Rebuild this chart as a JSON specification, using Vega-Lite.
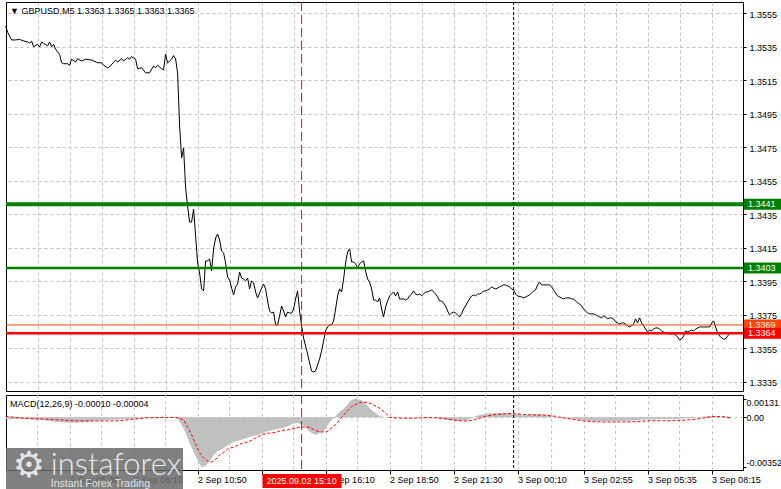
{
"$schema": "https://vega.github.io/schema/vega-lite/v6.json",
"background": "#ffffff",
"padding": {"left": 3, "top": 1, "right": 0, "bottom": 0},
"spacing": 2,
"config": {
  "view": {"stroke": "#000000", "strokeWidth": 1},
  "axis": {"labelFont": "Tahoma, 'Liberation Sans', Arial, sans-serif", "labelFontSize": 9, "labelColor": "#000000", "tickColor": "#000000", "tickSize": 4, "tickWidth": 1, "domain": false, "gridColor": "#c0c0c0", "gridDash": [3, 3], "gridWidth": 1, "labelOverlap": false, "labelFlush": false, "labelBound": false},
  "text": {"font": "Tahoma, 'Liberation Sans', Arial, sans-serif", "fontSize": 9, "color": "#000000"}
},
"datasets": {
  "price": [
{"t":"2025-09-02T02:50Z","p":1.35474},{"t":"2025-09-02T02:55Z","p":1.35438},{"t":"2025-09-02T03:05Z","p":1.35391},{"t":"2025-09-02T03:15Z","p":1.35391},{"t":"2025-09-02T03:25Z","p":1.35394},{"t":"2025-09-02T03:35Z","p":1.35385},{"t":"2025-09-02T03:45Z","p":1.35379},{"t":"2025-09-02T03:50Z","p":1.35371},{"t":"2025-09-02T03:55Z","p":1.35385},{"t":"2025-09-02T04:00Z","p":1.35351},{"t":"2025-09-02T04:10Z","p":1.35365},{"t":"2025-09-02T04:15Z","p":1.35349},{"t":"2025-09-02T04:20Z","p":1.35379},{"t":"2025-09-02T04:25Z","p":1.3537},{"t":"2025-09-02T04:35Z","p":1.35355},{"t":"2025-09-02T04:40Z","p":1.35379},{"t":"2025-09-02T04:45Z","p":1.35351},{"t":"2025-09-02T04:50Z","p":1.35365},{"t":"2025-09-02T04:55Z","p":1.35335},{"t":"2025-09-02T05:05Z","p":1.35305},{"t":"2025-09-02T05:10Z","p":1.35255},{"t":"2025-09-02T05:15Z","p":1.35249},{"t":"2025-09-02T05:25Z","p":1.35249},{"t":"2025-09-02T05:30Z","p":1.3524},{"t":"2025-09-02T05:35Z","p":1.35276},{"t":"2025-09-02T05:45Z","p":1.35259},{"t":"2025-09-02T05:50Z","p":1.35279},{"t":"2025-09-02T06:00Z","p":1.35265},{"t":"2025-09-02T06:10Z","p":1.35276},{"t":"2025-09-02T06:25Z","p":1.35271},{"t":"2025-09-02T06:40Z","p":1.35255},{"t":"2025-09-02T06:50Z","p":1.35255},{"t":"2025-09-02T06:55Z","p":1.3524},{"t":"2025-09-02T07:05Z","p":1.35225},{"t":"2025-09-02T07:10Z","p":1.35231},{"t":"2025-09-02T07:25Z","p":1.35271},{"t":"2025-09-02T07:30Z","p":1.35259},{"t":"2025-09-02T07:40Z","p":1.35279},{"t":"2025-09-02T07:45Z","p":1.35265},{"t":"2025-09-02T07:55Z","p":1.35285},{"t":"2025-09-02T08:00Z","p":1.35276},{"t":"2025-09-02T08:05Z","p":1.35291},{"t":"2025-09-02T08:15Z","p":1.35276},{"t":"2025-09-02T08:20Z","p":1.35219},{"t":"2025-09-02T08:30Z","p":1.35225},{"t":"2025-09-02T08:40Z","p":1.35195},{"t":"2025-09-02T08:50Z","p":1.35195},{"t":"2025-09-02T09:00Z","p":1.35235},{"t":"2025-09-02T09:05Z","p":1.35225},{"t":"2025-09-02T09:10Z","p":1.3524},{"t":"2025-09-02T09:20Z","p":1.35219},{"t":"2025-09-02T09:25Z","p":1.35212},{"t":"2025-09-02T09:30Z","p":1.35307},{"t":"2025-09-02T09:35Z","p":1.35253},{"t":"2025-09-02T09:45Z","p":1.35276},{"t":"2025-09-02T09:50Z","p":1.35298},{"t":"2025-09-02T09:55Z","p":1.35277},{"t":"2025-09-02T10:00Z","p":1.35194},{"t":"2025-09-02T10:05Z","p":1.34877},{"t":"2025-09-02T10:10Z","p":1.34686},{"t":"2025-09-02T10:15Z","p":1.34746},{"t":"2025-09-02T10:20Z","p":1.34507},{"t":"2025-09-02T10:25Z","p":1.344},{"t":"2025-09-02T10:30Z","p":1.34304},{"t":"2025-09-02T10:35Z","p":1.34304},{"t":"2025-09-02T10:40Z","p":1.34382},{"t":"2025-09-02T10:45Z","p":1.34221},{"t":"2025-09-02T10:50Z","p":1.3406},{"t":"2025-09-02T10:55Z","p":1.34},{"t":"2025-09-02T11:00Z","p":1.33905},{"t":"2025-09-02T11:05Z","p":1.33893},{"t":"2025-09-02T11:10Z","p":1.34072},{"t":"2025-09-02T11:15Z","p":1.34072},{"t":"2025-09-02T11:20Z","p":1.34084},{"t":"2025-09-02T11:25Z","p":1.34012},{"t":"2025-09-02T11:30Z","p":1.34144},{"t":"2025-09-02T11:35Z","p":1.34209},{"t":"2025-09-02T11:40Z","p":1.34233},{"t":"2025-09-02T11:45Z","p":1.34197},{"t":"2025-09-02T11:50Z","p":1.34131},{"t":"2025-09-02T11:55Z","p":1.3412},{"t":"2025-09-02T12:00Z","p":1.3406},{"t":"2025-09-02T12:05Z","p":1.33976},{"t":"2025-09-02T12:10Z","p":1.33958},{"t":"2025-09-02T12:15Z","p":1.3391},{"t":"2025-09-02T12:20Z","p":1.33869},{"t":"2025-09-02T12:25Z","p":1.33917},{"t":"2025-09-02T12:30Z","p":1.33934},{"t":"2025-09-02T12:35Z","p":1.34006},{"t":"2025-09-02T12:40Z","p":1.3397},{"t":"2025-09-02T12:45Z","p":1.33964},{"t":"2025-09-02T12:50Z","p":1.33953},{"t":"2025-09-02T12:55Z","p":1.3397},{"t":"2025-09-02T13:00Z","p":1.33905},{"t":"2025-09-02T13:05Z","p":1.33953},{"t":"2025-09-02T13:10Z","p":1.33941},{"t":"2025-09-02T13:15Z","p":1.33887},{"t":"2025-09-02T13:20Z","p":1.33851},{"t":"2025-09-02T13:25Z","p":1.33881},{"t":"2025-09-02T13:30Z","p":1.3391},{"t":"2025-09-02T13:35Z","p":1.33934},{"t":"2025-09-02T13:40Z","p":1.33905},{"t":"2025-09-02T13:45Z","p":1.33833},{"t":"2025-09-02T13:50Z","p":1.33773},{"t":"2025-09-02T13:55Z","p":1.33761},{"t":"2025-09-02T14:00Z","p":1.33767},{"t":"2025-09-02T14:05Z","p":1.3369},{"t":"2025-09-02T14:10Z","p":1.3369},{"t":"2025-09-02T14:15Z","p":1.33744},{"t":"2025-09-02T14:20Z","p":1.33803},{"t":"2025-09-02T14:25Z","p":1.33773},{"t":"2025-09-02T14:30Z","p":1.33738},{"t":"2025-09-02T14:35Z","p":1.33767},{"t":"2025-09-02T14:40Z","p":1.33761},{"t":"2025-09-02T14:45Z","p":1.33761},{"t":"2025-09-02T14:50Z","p":1.33785},{"t":"2025-09-02T14:55Z","p":1.33845},{"t":"2025-09-02T15:00Z","p":1.33893},{"t":"2025-09-02T15:05Z","p":1.33773},{"t":"2025-09-02T15:10Z","p":1.33684},{"t":"2025-09-02T15:15Z","p":1.33612},{"t":"2025-09-02T15:20Z","p":1.33564},{"t":"2025-09-02T15:25Z","p":1.33517},{"t":"2025-09-02T15:30Z","p":1.33463},{"t":"2025-09-02T15:35Z","p":1.33415},{"t":"2025-09-02T15:40Z","p":1.33409},{"t":"2025-09-02T15:45Z","p":1.33415},{"t":"2025-09-02T15:50Z","p":1.33451},{"t":"2025-09-02T15:55Z","p":1.33487},{"t":"2025-09-02T16:00Z","p":1.33535},{"t":"2025-09-02T16:05Z","p":1.33594},{"t":"2025-09-02T16:10Z","p":1.33654},{"t":"2025-09-02T16:15Z","p":1.33678},{"t":"2025-09-02T16:20Z","p":1.3369},{"t":"2025-09-02T16:25Z","p":1.3369},{"t":"2025-09-02T16:30Z","p":1.33714},{"t":"2025-09-02T16:35Z","p":1.33785},{"t":"2025-09-02T16:40Z","p":1.33863},{"t":"2025-09-02T16:45Z","p":1.33905},{"t":"2025-09-02T16:50Z","p":1.33887},{"t":"2025-09-02T16:55Z","p":1.33964},{"t":"2025-09-02T17:00Z","p":1.3406},{"t":"2025-09-02T17:05Z","p":1.34126},{"t":"2025-09-02T17:10Z","p":1.34144},{"t":"2025-09-02T17:15Z","p":1.34066},{"t":"2025-09-02T17:20Z","p":1.34066},{"t":"2025-09-02T17:25Z","p":1.34054},{"t":"2025-09-02T17:30Z","p":1.3403},{"t":"2025-09-02T17:35Z","p":1.34054},{"t":"2025-09-02T17:40Z","p":1.34066},{"t":"2025-09-02T17:45Z","p":1.34072},{"t":"2025-09-02T17:50Z","p":1.34012},{"t":"2025-09-02T17:55Z","p":1.33964},{"t":"2025-09-02T18:00Z","p":1.33946},{"t":"2025-09-02T18:05Z","p":1.33905},{"t":"2025-09-02T18:10Z","p":1.33839},{"t":"2025-09-02T18:15Z","p":1.33839},{"t":"2025-09-02T18:20Z","p":1.33827},{"t":"2025-09-02T18:25Z","p":1.33851},{"t":"2025-09-02T18:30Z","p":1.33785},{"t":"2025-09-02T18:35Z","p":1.33738},{"t":"2025-09-02T18:40Z","p":1.33797},{"t":"2025-09-02T18:45Z","p":1.33833},{"t":"2025-09-02T18:50Z","p":1.33863},{"t":"2025-09-02T18:55Z","p":1.33875},{"t":"2025-09-02T19:00Z","p":1.33887},{"t":"2025-09-02T19:05Z","p":1.33863},{"t":"2025-09-02T19:10Z","p":1.33887},{"t":"2025-09-02T19:15Z","p":1.33845},{"t":"2025-09-02T19:20Z","p":1.33845},{"t":"2025-09-02T19:25Z","p":1.33845},{"t":"2025-09-02T19:30Z","p":1.33839},{"t":"2025-09-02T19:35Z","p":1.33845},{"t":"2025-09-02T19:40Z","p":1.33863},{"t":"2025-09-02T19:45Z","p":1.33875},{"t":"2025-09-02T19:50Z","p":1.33893},{"t":"2025-09-02T19:55Z","p":1.33875},{"t":"2025-09-02T20:00Z","p":1.33869},{"t":"2025-09-02T20:05Z","p":1.33875},{"t":"2025-09-02T20:10Z","p":1.33863},{"t":"2025-09-02T20:15Z","p":1.33875},{"t":"2025-09-02T20:20Z","p":1.33887},{"t":"2025-09-02T20:25Z","p":1.33887},{"t":"2025-09-02T20:30Z","p":1.33893},{"t":"2025-09-02T20:35Z","p":1.33899},{"t":"2025-09-02T20:40Z","p":1.33887},{"t":"2025-09-02T20:45Z","p":1.33875},{"t":"2025-09-02T20:50Z","p":1.33857},{"t":"2025-09-02T20:55Z","p":1.33833},{"t":"2025-09-02T21:00Z","p":1.33833},{"t":"2025-09-02T21:05Z","p":1.33821},{"t":"2025-09-02T21:10Z","p":1.33803},{"t":"2025-09-02T21:15Z","p":1.33773},{"t":"2025-09-02T21:20Z","p":1.3375},{"t":"2025-09-02T21:25Z","p":1.33761},{"t":"2025-09-02T21:30Z","p":1.33767},{"t":"2025-09-02T21:35Z","p":1.33761},{"t":"2025-09-02T21:40Z","p":1.3375},{"t":"2025-09-02T21:45Z","p":1.33738},{"t":"2025-09-02T21:50Z","p":1.33756},{"t":"2025-09-02T21:55Z","p":1.33785},{"t":"2025-09-02T22:00Z","p":1.33803},{"t":"2025-09-02T22:05Z","p":1.33827},{"t":"2025-09-02T22:10Z","p":1.33845},{"t":"2025-09-02T22:15Z","p":1.33863},{"t":"2025-09-02T22:20Z","p":1.33869},{"t":"2025-09-02T22:25Z","p":1.33863},{"t":"2025-09-02T22:30Z","p":1.33875},{"t":"2025-09-02T22:35Z","p":1.33875},{"t":"2025-09-02T22:40Z","p":1.33881},{"t":"2025-09-02T22:45Z","p":1.33893},{"t":"2025-09-02T22:50Z","p":1.33893},{"t":"2025-09-02T22:55Z","p":1.33899},{"t":"2025-09-02T23:00Z","p":1.33905},{"t":"2025-09-02T23:05Z","p":1.33917},{"t":"2025-09-02T23:10Z","p":1.3391},{"t":"2025-09-02T23:15Z","p":1.33905},{"t":"2025-09-02T23:20Z","p":1.3391},{"t":"2025-09-02T23:25Z","p":1.33917},{"t":"2025-09-02T23:30Z","p":1.33923},{"t":"2025-09-02T23:35Z","p":1.33929},{"t":"2025-09-02T23:40Z","p":1.33929},{"t":"2025-09-02T23:45Z","p":1.33923},{"t":"2025-09-02T23:50Z","p":1.33917},{"t":"2025-09-02T23:55Z","p":1.33905},
{"t":"2025-09-03T00:00Z","p":1.33899},{"t":"2025-09-03T00:05Z","p":1.33875},{"t":"2025-09-03T00:10Z","p":1.33863},{"t":"2025-09-03T00:20Z","p":1.33857},{"t":"2025-09-03T00:25Z","p":1.33851},{"t":"2025-09-03T00:30Z","p":1.33857},{"t":"2025-09-03T00:35Z","p":1.33863},{"t":"2025-09-03T00:40Z","p":1.33869},{"t":"2025-09-03T00:45Z","p":1.33881},{"t":"2025-09-03T00:50Z","p":1.33893},{"t":"2025-09-03T00:55Z","p":1.33899},{"t":"2025-09-03T01:00Z","p":1.33929},{"t":"2025-09-03T01:05Z","p":1.33946},{"t":"2025-09-03T01:10Z","p":1.33929},{"t":"2025-09-03T01:15Z","p":1.33929},{"t":"2025-09-03T01:20Z","p":1.33929},{"t":"2025-09-03T01:25Z","p":1.33929},{"t":"2025-09-03T01:30Z","p":1.33929},{"t":"2025-09-03T01:35Z","p":1.33917},{"t":"2025-09-03T01:40Z","p":1.33899},{"t":"2025-09-03T01:45Z","p":1.33881},{"t":"2025-09-03T01:50Z","p":1.33863},{"t":"2025-09-03T01:55Z","p":1.33857},{"t":"2025-09-03T02:00Z","p":1.33851},{"t":"2025-09-03T02:05Z","p":1.33845},{"t":"2025-09-03T02:10Z","p":1.33851},{"t":"2025-09-03T02:15Z","p":1.33851},{"t":"2025-09-03T02:20Z","p":1.33851},{"t":"2025-09-03T02:25Z","p":1.33845},{"t":"2025-09-03T02:30Z","p":1.33845},{"t":"2025-09-03T02:35Z","p":1.33833},{"t":"2025-09-03T02:40Z","p":1.33821},{"t":"2025-09-03T02:45Z","p":1.33815},{"t":"2025-09-03T02:50Z","p":1.33803},{"t":"2025-09-03T02:55Z","p":1.33785},{"t":"2025-09-03T03:00Z","p":1.33773},{"t":"2025-09-03T03:05Z","p":1.33761},{"t":"2025-09-03T03:10Z","p":1.33756},{"t":"2025-09-03T03:15Z","p":1.33756},{"t":"2025-09-03T03:20Z","p":1.33756},{"t":"2025-09-03T03:25Z","p":1.3375},{"t":"2025-09-03T03:30Z","p":1.33744},{"t":"2025-09-03T03:35Z","p":1.33738},{"t":"2025-09-03T03:40Z","p":1.33732},{"t":"2025-09-03T03:45Z","p":1.33744},{"t":"2025-09-03T03:50Z","p":1.33738},{"t":"2025-09-03T03:55Z","p":1.33726},{"t":"2025-09-03T04:00Z","p":1.33732},{"t":"2025-09-03T04:05Z","p":1.33732},{"t":"2025-09-03T04:10Z","p":1.33726},{"t":"2025-09-03T04:15Z","p":1.33708},{"t":"2025-09-03T04:20Z","p":1.33702},{"t":"2025-09-03T04:25Z","p":1.33696},{"t":"2025-09-03T04:30Z","p":1.33702},{"t":"2025-09-03T04:35Z","p":1.33702},{"t":"2025-09-03T04:40Z","p":1.33696},{"t":"2025-09-03T04:45Z","p":1.33684},{"t":"2025-09-03T04:50Z","p":1.33678},{"t":"2025-09-03T04:55Z","p":1.33684},{"t":"2025-09-03T05:00Z","p":1.33696},{"t":"2025-09-03T05:05Z","p":1.33726},{"t":"2025-09-03T05:10Z","p":1.33702},{"t":"2025-09-03T05:15Z","p":1.33732},{"t":"2025-09-03T05:20Z","p":1.33702},{"t":"2025-09-03T05:25Z","p":1.33684},{"t":"2025-09-03T05:30Z","p":1.33666},{"t":"2025-09-03T05:35Z","p":1.33648},{"t":"2025-09-03T05:40Z","p":1.3366},{"t":"2025-09-03T05:45Z","p":1.33654},{"t":"2025-09-03T05:50Z","p":1.33666},{"t":"2025-09-03T05:55Z","p":1.33672},{"t":"2025-09-03T06:00Z","p":1.33672},{"t":"2025-09-03T06:05Z","p":1.33666},{"t":"2025-09-03T06:10Z","p":1.33654},{"t":"2025-09-03T06:15Z","p":1.33648},{"t":"2025-09-03T06:20Z","p":1.33636},{"t":"2025-09-03T06:25Z","p":1.33642},{"t":"2025-09-03T06:30Z","p":1.33636},{"t":"2025-09-03T06:35Z","p":1.33636},{"t":"2025-09-03T06:40Z","p":1.33636},{"t":"2025-09-03T06:45Z","p":1.3363},{"t":"2025-09-03T06:50Z","p":1.33618},{"t":"2025-09-03T06:55Z","p":1.336},{"t":"2025-09-03T07:00Z","p":1.33606},{"t":"2025-09-03T07:05Z","p":1.33624},{"t":"2025-09-03T07:10Z","p":1.33654},{"t":"2025-09-03T07:15Z","p":1.3365},{"t":"2025-09-03T07:20Z","p":1.33654},{"t":"2025-09-03T07:25Z","p":1.3366},{"t":"2025-09-03T07:30Z","p":1.33654},{"t":"2025-09-03T07:35Z","p":1.33666},{"t":"2025-09-03T07:40Z","p":1.33672},{"t":"2025-09-03T07:45Z","p":1.33678},{"t":"2025-09-03T07:50Z","p":1.33678},{"t":"2025-09-03T07:55Z","p":1.33678},{"t":"2025-09-03T08:00Z","p":1.33678},{"t":"2025-09-03T08:05Z","p":1.33678},{"t":"2025-09-03T08:10Z","p":1.33678},{"t":"2025-09-03T08:15Z","p":1.33702},{"t":"2025-09-03T08:20Z","p":1.33714},{"t":"2025-09-03T08:25Z","p":1.33678},{"t":"2025-09-03T08:30Z","p":1.33642},{"t":"2025-09-03T08:35Z","p":1.33624},{"t":"2025-09-03T08:40Z","p":1.33612},{"t":"2025-09-03T08:45Z","p":1.33606},{"t":"2025-09-03T08:50Z","p":1.33606},{"t":"2025-09-03T08:55Z","p":1.33624},{"t":"2025-09-03T09:00Z","p":1.33636},{"t":"2025-09-03T09:05Z","p":1.33648}
  ],
  "hist": [
{"t":"2025-09-02T02:50Z","m":-0.00012},{"t":"2025-09-02T03:30Z","m":-0.00012},{"t":"2025-09-02T04:20Z","m":-0.00019},{"t":"2025-09-02T05:00Z","m":-0.00033},{"t":"2025-09-02T05:35Z","m":-0.0004},{"t":"2025-09-02T06:15Z","m":-0.00033},{"t":"2025-09-02T06:50Z","m":-0.00019},{"t":"2025-09-02T07:30Z","m":-0.00015},{"t":"2025-09-02T08:05Z","m":-0.00012},{"t":"2025-09-02T08:45Z","m":-0.00005},{"t":"2025-09-02T09:20Z","m":-0.00005},{"t":"2025-09-02T09:50Z","m":-0.00001},{"t":"2025-09-02T10:00Z","m":-0.00012},{"t":"2025-09-02T10:10Z","m":-0.00052},{"t":"2025-09-02T10:20Z","m":-0.00111},{"t":"2025-09-02T10:30Z","m":-0.00181},{"t":"2025-09-02T10:40Z","m":-0.00244},{"t":"2025-09-02T10:50Z","m":-0.00301},{"t":"2025-09-02T11:00Z","m":-0.00352},{"t":"2025-09-02T11:10Z","m":-0.00343},{"t":"2025-09-02T11:20Z","m":-0.00308},{"t":"2025-09-02T11:30Z","m":-0.00265},{"t":"2025-09-02T11:40Z","m":-0.00237},{"t":"2025-09-02T11:50Z","m":-0.00228},{"t":"2025-09-02T12:05Z","m":-0.00195},{"t":"2025-09-02T12:20Z","m":-0.00174},{"t":"2025-09-02T12:40Z","m":-0.00158},{"t":"2025-09-02T13:00Z","m":-0.00139},{"t":"2025-09-02T13:20Z","m":-0.00122},{"t":"2025-09-02T13:45Z","m":-0.00099},{"t":"2025-09-02T14:10Z","m":-0.00082},{"t":"2025-09-02T14:30Z","m":-0.0007},{"t":"2025-09-02T14:45Z","m":-0.00051},{"t":"2025-09-02T14:55Z","m":-0.0004},{"t":"2025-09-02T15:05Z","m":-0.00044},{"t":"2025-09-02T15:15Z","m":-0.00058},{"t":"2025-09-02T15:25Z","m":-0.00087},{"t":"2025-09-02T15:35Z","m":-0.00111},{"t":"2025-09-02T15:45Z","m":-0.00122},{"t":"2025-09-02T15:55Z","m":-0.00111},{"t":"2025-09-02T16:05Z","m":-0.00099},{"t":"2025-09-02T16:15Z","m":-0.00054},{"t":"2025-09-02T16:25Z","m":-0.00019},{"t":"2025-09-02T16:35Z","m":0.00009},{"t":"2025-09-02T16:45Z","m":0.00037},{"t":"2025-09-02T16:55Z","m":0.00058},{"t":"2025-09-02T17:05Z","m":0.00094},{"t":"2025-09-02T17:15Z","m":0.00122},{"t":"2025-09-02T17:25Z","m":0.00131},{"t":"2025-09-02T17:35Z","m":0.00125},{"t":"2025-09-02T17:45Z","m":0.0011},{"t":"2025-09-02T17:55Z","m":0.0008},{"t":"2025-09-02T18:05Z","m":0.00051},{"t":"2025-09-02T18:15Z","m":0.0003},{"t":"2025-09-02T18:25Z","m":0.00009},{"t":"2025-09-02T18:40Z","m":-0.00001},{"t":"2025-09-02T19:00Z","m":0},{"t":"2025-09-02T19:20Z","m":-0.00001},{"t":"2025-09-02T19:45Z","m":0},{"t":"2025-09-02T20:10Z","m":0},{"t":"2025-09-02T20:35Z","m":-0.00001},{"t":"2025-09-02T21:00Z","m":-0.00012},{"t":"2025-09-02T21:25Z","m":-0.00023},{"t":"2025-09-02T21:45Z","m":-0.00026},{"t":"2025-09-02T22:05Z","m":-0.00019},{"t":"2025-09-02T22:20Z","m":0.00002},{"t":"2025-09-02T22:35Z","m":0.00016},{"t":"2025-09-02T22:55Z","m":0.00027},{"t":"2025-09-02T23:15Z","m":0.0003},{"t":"2025-09-02T23:35Z","m":0.0003},{"t":"2025-09-02T23:55Z","m":0.00027},{"t":"2025-09-03T00:20Z","m":0.00016},{"t":"2025-09-03T00:40Z","m":0.0002},{"t":"2025-09-03T01:00Z","m":0.00023},{"t":"2025-09-03T01:20Z","m":0.00016},{"t":"2025-09-03T01:40Z","m":0.00006},{"t":"2025-09-03T02:05Z","m":-0.00005},{"t":"2025-09-03T02:30Z","m":-0.00012},{"t":"2025-09-03T02:55Z","m":-0.00023},{"t":"2025-09-03T03:20Z","m":-0.00026},{"t":"2025-09-03T03:45Z","m":-0.00028},{"t":"2025-09-03T04:10Z","m":-0.00028},{"t":"2025-09-03T04:35Z","m":-0.00026},{"t":"2025-09-03T05:00Z","m":-0.00023},{"t":"2025-09-03T05:25Z","m":-0.00015},{"t":"2025-09-03T05:50Z","m":-0.00015},{"t":"2025-09-03T06:15Z","m":-0.00012},{"t":"2025-09-03T06:40Z","m":-0.00012},{"t":"2025-09-03T07:05Z","m":-0.00008},{"t":"2025-09-03T07:30Z","m":-0.00005},{"t":"2025-09-03T07:50Z","m":0.00004},{"t":"2025-09-03T08:10Z","m":0.00009},{"t":"2025-09-03T08:30Z","m":0.00006},{"t":"2025-09-03T08:50Z","m":-0.00005},{"t":"2025-09-03T09:05Z","m":-0.0001}
  ],
  "sig": [
{"t":"2025-09-02T02:50Z","s":0.00006},{"t":"2025-09-02T03:30Z","s":-0.00005},{"t":"2025-09-02T04:20Z","s":-0.00012},{"t":"2025-09-02T05:10Z","s":-0.00019},{"t":"2025-09-02T05:55Z","s":-0.00026},{"t":"2025-09-02T06:40Z","s":-0.00026},{"t":"2025-09-02T07:35Z","s":-0.00024},{"t":"2025-09-02T08:05Z","s":-0.00015},{"t":"2025-09-02T08:40Z","s":-0.00004},{"t":"2025-09-02T09:20Z","s":-0.00001},{"t":"2025-09-02T09:55Z","s":-0.00001},{"t":"2025-09-02T10:05Z","s":-0.00005},{"t":"2025-09-02T10:15Z","s":-0.00019},{"t":"2025-09-02T10:25Z","s":-0.00068},{"t":"2025-09-02T10:35Z","s":-0.00122},{"t":"2025-09-02T10:45Z","s":-0.00188},{"t":"2025-09-02T10:55Z","s":-0.00251},{"t":"2025-09-02T11:05Z","s":-0.00287},{"t":"2025-09-02T11:15Z","s":-0.00308},{"t":"2025-09-02T11:25Z","s":-0.00315},{"t":"2025-09-02T11:35Z","s":-0.00297},{"t":"2025-09-02T11:45Z","s":-0.00265},{"t":"2025-09-02T11:55Z","s":-0.00248},{"t":"2025-09-02T12:05Z","s":-0.00223},{"t":"2025-09-02T12:25Z","s":-0.00204},{"t":"2025-09-02T12:40Z","s":-0.00184},{"t":"2025-09-02T13:00Z","s":-0.00169},{"t":"2025-09-02T13:15Z","s":-0.00146},{"t":"2025-09-02T13:30Z","s":-0.00122},{"t":"2025-09-02T13:50Z","s":-0.00111},{"t":"2025-09-02T14:05Z","s":-0.00106},{"t":"2025-09-02T14:20Z","s":-0.00093},{"t":"2025-09-02T14:40Z","s":-0.00087},{"t":"2025-09-02T14:55Z","s":-0.00075},{"t":"2025-09-02T15:05Z","s":-0.0007},{"t":"2025-09-02T15:15Z","s":-0.00068},{"t":"2025-09-02T15:30Z","s":-0.0007},{"t":"2025-09-02T15:40Z","s":-0.00086},{"t":"2025-09-02T15:55Z","s":-0.00103},{"t":"2025-09-02T16:05Z","s":-0.00103},{"t":"2025-09-02T16:15Z","s":-0.00099},{"t":"2025-09-02T16:25Z","s":-0.00075},{"t":"2025-09-02T16:35Z","s":-0.00052},{"t":"2025-09-02T16:45Z","s":-0.00019},{"t":"2025-09-02T16:55Z","s":0.00016},{"t":"2025-09-02T17:05Z","s":0.00048},{"t":"2025-09-02T17:15Z","s":0.00077},{"t":"2025-09-02T17:30Z","s":0.00097},{"t":"2025-09-02T17:40Z","s":0.00108},{"t":"2025-09-02T17:55Z","s":0.00104},{"t":"2025-09-02T18:05Z","s":0.00094},{"t":"2025-09-02T18:20Z","s":0.00073},{"t":"2025-09-02T18:30Z","s":0.00054},{"t":"2025-09-02T18:40Z","s":0.0003},{"t":"2025-09-02T18:50Z","s":0},{"t":"2025-09-02T19:10Z","s":-0.00005},{"t":"2025-09-02T19:35Z","s":-0.00007},{"t":"2025-09-02T20:00Z","s":-0.00005},{"t":"2025-09-02T20:25Z","s":-0.00001},{"t":"2025-09-02T20:50Z","s":-0.00004},{"t":"2025-09-02T21:15Z","s":-0.00012},{"t":"2025-09-02T21:40Z","s":-0.00023},{"t":"2025-09-02T22:05Z","s":-0.00026},{"t":"2025-09-02T22:20Z","s":-0.00019},{"t":"2025-09-02T22:40Z","s":-0.00001},{"t":"2025-09-02T23:05Z","s":0.00016},{"t":"2025-09-02T23:30Z","s":0.00023},{"t":"2025-09-02T23:55Z","s":0.00027},{"t":"2025-09-03T00:25Z","s":0.0002},{"t":"2025-09-03T00:50Z","s":0.00016},{"t":"2025-09-03T01:15Z","s":0.00016},{"t":"2025-09-03T01:40Z","s":0.00009},{"t":"2025-09-03T02:05Z","s":-0.00005},{"t":"2025-09-03T02:30Z","s":-0.00015},{"t":"2025-09-03T02:55Z","s":-0.00026},{"t":"2025-09-03T03:20Z","s":-0.00031},{"t":"2025-09-03T03:45Z","s":-0.00033},{"t":"2025-09-03T04:25Z","s":-0.00033},{"t":"2025-09-03T05:00Z","s":-0.00031},{"t":"2025-09-03T05:40Z","s":-0.00024},{"t":"2025-09-03T06:15Z","s":-0.00024},{"t":"2025-09-03T06:55Z","s":-0.00023},{"t":"2025-09-03T07:30Z","s":-0.00015},{"t":"2025-09-03T07:55Z","s":-0.00005},{"t":"2025-09-03T08:20Z","s":0.00006},{"t":"2025-09-03T08:40Z","s":0.00006},{"t":"2025-09-03T09:05Z","s":-0.00004}
  ],
  "levels": [{"level": 1.3441}, {"level": 1.3403}, {"level": 1.3369}, {"level": 1.3364}],
  "midgrid": [{"g":"2025-09-02T04:10Z"},{"g":"2025-09-02T06:50Z"},{"g":"2025-09-02T09:30Z"},{"g":"2025-09-02T12:10Z"},{"g":"2025-09-02T14:50Z"},{"g":"2025-09-02T17:30Z"},{"g":"2025-09-02T20:10Z"},{"g":"2025-09-02T22:50Z"},{"g":"2025-09-03T01:35Z"},{"g":"2025-09-03T04:15Z"},{"g":"2025-09-03T06:55Z"}]
},
"vconcat": [
{
  "width": 737, "height": 389,
  "layer": [
    {"data": {"name": "price"}, "mark": {"type": "line", "color": "#000000", "strokeWidth": 1},
     "encoding": {
       "x": {"field": "t", "type": "temporal", "title": null,
             "scale": {"type": "utc", "domain": [{"year":2025,"month":9,"date":2,"hours":2,"minutes":51,"utc":true}, {"year":2025,"month":9,"date":3,"hours":9,"minutes":33,"seconds":30,"utc":true}]},
             "axis": {"values": [{"year":2025,"month":9,"date":2,"hours":2,"minutes":50,"utc":true},{"year":2025,"month":9,"date":2,"hours":4,"minutes":10,"utc":true},{"year":2025,"month":9,"date":2,"hours":5,"minutes":30,"utc":true},{"year":2025,"month":9,"date":2,"hours":6,"minutes":50,"utc":true},{"year":2025,"month":9,"date":2,"hours":8,"minutes":10,"utc":true},{"year":2025,"month":9,"date":2,"hours":9,"minutes":30,"utc":true},{"year":2025,"month":9,"date":2,"hours":10,"minutes":50,"utc":true},{"year":2025,"month":9,"date":2,"hours":12,"minutes":10,"utc":true},{"year":2025,"month":9,"date":2,"hours":13,"minutes":30,"utc":true},{"year":2025,"month":9,"date":2,"hours":14,"minutes":50,"utc":true},{"year":2025,"month":9,"date":2,"hours":16,"minutes":10,"utc":true},{"year":2025,"month":9,"date":2,"hours":17,"minutes":30,"utc":true},{"year":2025,"month":9,"date":2,"hours":18,"minutes":50,"utc":true},{"year":2025,"month":9,"date":2,"hours":20,"minutes":10,"utc":true},{"year":2025,"month":9,"date":2,"hours":21,"minutes":30,"utc":true},{"year":2025,"month":9,"date":2,"hours":22,"minutes":50,"utc":true},{"year":2025,"month":9,"date":3,"hours":0,"minutes":10,"utc":true},{"year":2025,"month":9,"date":3,"hours":1,"minutes":35,"utc":true},{"year":2025,"month":9,"date":3,"hours":2,"minutes":55,"utc":true},{"year":2025,"month":9,"date":3,"hours":4,"minutes":15,"utc":true},{"year":2025,"month":9,"date":3,"hours":5,"minutes":35,"utc":true},{"year":2025,"month":9,"date":3,"hours":6,"minutes":55,"utc":true},{"year":2025,"month":9,"date":3,"hours":8,"minutes":15,"utc":true}],
                      "tickCount": 100, "grid": true, "labels": false, "ticks": false, "domain": false}},
       "y": {"field": "p", "type": "quantitative", "title": null,
             "scale": {"domain": [1.332957, 1.356174], "zero": false, "nice": false},
             "axis": {"orient": "right", "values": [1.3555,1.3535,1.3515,1.3495,1.3475,1.3455,1.3435,1.3415,1.3395,1.3375,1.3355,1.3335], "tickCount": 100, "format": ".4f", "grid": true, "ticks": true, "tickSize": 3, "labelOverlap": false, "labelPadding": 3, "labelBaseline": "top", "labelOffset": -3}}
     }},
    {"data": {"values": [{}]}, "mark": {"type": "rule", "color": "#008000", "strokeWidth": 4}, "encoding": {"y": {"datum": 1.3441, "type": "quantitative"}}},
    {"data": {"values": [{}]}, "mark": {"type": "rule", "color": "#008000", "strokeWidth": 2.5}, "encoding": {"y": {"datum": 1.3403, "type": "quantitative"}}},
    {"data": {"values": [{}]}, "mark": {"type": "rule", "color": "#ff4500", "strokeWidth": 1}, "encoding": {"y": {"datum": 1.3369, "type": "quantitative"}}},
    {"data": {"values": [{}]}, "mark": {"type": "rule", "color": "#ff0000", "strokeWidth": 2.5}, "encoding": {"y": {"datum": 1.3364, "type": "quantitative"}}},
    {"data": {"values": [{}]}, "mark": {"type": "rule", "color": "#ff0000", "strokeWidth": 1, "strokeDash": [9, 4]}, "encoding": {"x": {"datum": {"year":2025,"month":9,"date":2,"hours":15,"minutes":10,"utc":true}, "type": "temporal"}}},
    {"data": {"values": [{}]}, "mark": {"type": "rule", "color": "#000000", "strokeWidth": 1, "strokeDash": [3, 2]}, "encoding": {"x": {"datum": {"year":2025,"month":9,"date":3,"hours":0,"minutes":0,"utc":true}, "type": "temporal"}}},
    {"data": {"values": [{}]}, "mark": {"type": "text", "text": "▼ GBPUSD,M5  1.3363 1.3365 1.3363 1.3365", "align": "left", "baseline": "middle", "dx": 4, "dy": 9},
     "encoding": {"x": {"datum": {"year":2025,"month":9,"date":2,"hours":2,"minutes":51,"utc":true}, "type": "temporal"}, "y": {"datum": 1.356174, "type": "quantitative"}}},
    {"data": {"name": "levels"}, "transform": [{"filter": "datum.level != 1.3364"}],
     "layer": [
       {"mark": {"type": "rule", "strokeWidth": 11, "strokeCap": "butt"},
        "encoding": {"x": {"datum": {"year":2025,"month":9,"date":3,"hours":9,"minutes":36,"utc":true}, "type": "temporal"}, "x2": {"datum": {"year":2025,"month":9,"date":3,"hours":11,"minutes":13,"seconds":30,"utc":true}},
                     "y": {"field": "level", "type": "quantitative", "title": null},
                     "color": {"field": "level", "type": "nominal", "scale": {"domain": [1.3441, 1.3403, 1.3369, 1.3364], "range": ["#008000", "#008000", "#ff4500", "#ff0000"]}, "legend": null}}},
       {"mark": {"type": "text", "color": "#ffffff", "align": "left", "baseline": "middle", "dx": 4},
        "encoding": {"x": {"datum": {"year":2025,"month":9,"date":3,"hours":9,"minutes":36,"utc":true}, "type": "temporal"}, "y": {"field": "level", "type": "quantitative", "title": null}, "text": {"field": "level", "type": "quantitative", "format": ".4f"}}}
     ]},
    {"data": {"name": "levels"}, "transform": [{"filter": "datum.level == 1.3364"}],
     "layer": [
       {"mark": {"type": "rule", "strokeWidth": 11, "strokeCap": "butt"},
        "encoding": {"x": {"datum": {"year":2025,"month":9,"date":3,"hours":9,"minutes":36,"utc":true}, "type": "temporal"}, "x2": {"datum": {"year":2025,"month":9,"date":3,"hours":11,"minutes":13,"seconds":30,"utc":true}},
                     "y": {"field": "level", "type": "quantitative", "title": null},
                     "color": {"field": "level", "type": "nominal", "scale": {"domain": [1.3441, 1.3403, 1.3369, 1.3364], "range": ["#008000", "#008000", "#ff4500", "#ff0000"]}, "legend": null}}},
       {"mark": {"type": "text", "color": "#ffffff", "align": "left", "baseline": "middle", "dx": 4},
        "encoding": {"x": {"datum": {"year":2025,"month":9,"date":3,"hours":9,"minutes":36,"utc":true}, "type": "temporal"}, "y": {"field": "level", "type": "quantitative", "title": null}, "text": {"field": "level", "type": "quantitative", "format": ".4f"}}}
     ]}
  ]
},
{
  "width": 737, "height": 75,
  "layer": [
    {"data": {"name": "midgrid"}, "mark": {"type": "rule", "color": "#c0c0c0", "strokeWidth": 1, "strokeDash": [3, 3]},
     "encoding": {"x": {"field": "g", "type": "temporal", "title": null}}},
    {"data": {"name": "hist"}, "mark": {"type": "area", "color": "#c0c0c0", "opacity": 1},
     "encoding": {
       "x": {"field": "t", "type": "temporal", "title": null,
             "scale": {"type": "utc", "domain": [{"year":2025,"month":9,"date":2,"hours":2,"minutes":51,"utc":true}, {"year":2025,"month":9,"date":3,"hours":9,"minutes":33,"seconds":30,"utc":true}]},
             "axis": {"orient": "bottom", "values": [{"year":2025,"month":9,"date":2,"hours":2,"minutes":50,"utc":true},{"year":2025,"month":9,"date":2,"hours":5,"minutes":30,"utc":true},{"year":2025,"month":9,"date":2,"hours":8,"minutes":10,"utc":true},{"year":2025,"month":9,"date":2,"hours":10,"minutes":50,"utc":true},{"year":2025,"month":9,"date":2,"hours":13,"minutes":30,"utc":true},{"year":2025,"month":9,"date":2,"hours":16,"minutes":10,"utc":true},{"year":2025,"month":9,"date":2,"hours":18,"minutes":50,"utc":true},{"year":2025,"month":9,"date":2,"hours":21,"minutes":30,"utc":true},{"year":2025,"month":9,"date":3,"hours":0,"minutes":10,"utc":true},{"year":2025,"month":9,"date":3,"hours":2,"minutes":55,"utc":true},{"year":2025,"month":9,"date":3,"hours":5,"minutes":35,"utc":true},{"year":2025,"month":9,"date":3,"hours":8,"minutes":15,"utc":true}],
                      "tickCount": 100, "grid": true, "domain": false, "ticks": true, "tickSize": 4, "labelOverlap": false,
                      "format": "%-d %b %H:%M",
                      "labelExpr": "datum.value < utc(2025, 8, 2, 3, 0) ? '2 Sep 2025' : datum.label",
                      "labelAlign": "left", "labelBaseline": "top", "labelPadding": 1}},
       "y": {"field": "m", "type": "quantitative", "title": null,
             "scale": {"domain": [-0.00371, 0.00157], "zero": false, "nice": false},
             "axis": {"orient": "right", "values": [0.00131, 0, -0.00352], "tickCount": 100, "grid": true, "labelOverlap": false, "tickSize": 3,
                      "gridOpacity": {"condition": {"test": "datum.value == 0", "value": 1}, "value": 0},
                      "labelExpr": "datum.value == 0 ? '0.00' : (datum.value < 0 ? '-' + format(-datum.value, '.5f') : format(datum.value, '.5f'))",
                      "labelBaseline": {"condition": [{"test": "datum.value > 0.001", "value": "top"}, {"test": "datum.value < -0.003", "value": "bottom"}], "value": "middle"},
                      "labelPadding": 0}},
       "y2": {"datum": 0}
     }},
    {"data": {"name": "sig"}, "mark": {"type": "line", "color": "#ff0000", "strokeWidth": 1, "strokeDash": [3, 2]},
     "encoding": {"x": {"field": "t", "type": "temporal", "title": null}, "y": {"field": "s", "type": "quantitative", "title": null}}},
    {"data": {"values": [{}]}, "mark": {"type": "rule", "color": "#ff0000", "strokeWidth": 1, "strokeDash": [9, 4]}, "encoding": {"x": {"datum": {"year":2025,"month":9,"date":2,"hours":15,"minutes":10,"utc":true}, "type": "temporal"}}},
    {"data": {"values": [{}]}, "mark": {"type": "rule", "color": "#000000", "strokeWidth": 1, "strokeDash": [3, 2]}, "encoding": {"x": {"datum": {"year":2025,"month":9,"date":3,"hours":0,"minutes":0,"utc":true}, "type": "temporal"}}},
    {"data": {"values": [{}]}, "mark": {"type": "text", "text": "MACD(12,26,9) -0.00010 -0.00004", "align": "left", "baseline": "middle", "dx": 4, "dy": 9},
     "encoding": {"x": {"datum": {"year":2025,"month":9,"date":2,"hours":2,"minutes":51,"utc":true}, "type": "temporal"}, "y": {"datum": 0.00157, "type": "quantitative"}}},
    {"data": {"values": [{}]}, "mark": {"type": "rect", "color": "#6a6a6a", "opacity": 0.85},
     "encoding": {"x": {"datum": {"year":2025,"month":9,"date":2,"hours":2,"minutes":51,"utc":true}, "type": "temporal"}, "x2": {"datum": {"year":2025,"month":9,"date":2,"hours":10,"minutes":13,"seconds":30,"utc":true}},
                  "y": {"datum": -0.00216, "type": "quantitative"}, "y2": {"datum": -0.00519}}},
    {"data": {"values": [{}]}, "mark": {"type": "text", "text": "⚙", "font": "DejaVu Sans", "fontSize": 36, "color": "#e4e4e4", "align": "center", "baseline": "middle"},
     "encoding": {"x": {"datum": {"year":2025,"month":9,"date":2,"hours":3,"minutes":48,"utc":true}, "type": "temporal"}, "y": {"datum": -0.00343, "type": "quantitative"}}},
    {"data": {"values": [{}]}, "mark": {"type": "text", "text": "instaforex", "font": "Lato", "fontWeight": 300, "fontSize": 31, "color": "#e8e8e8", "align": "left", "baseline": "alphabetic"},
     "encoding": {"x": {"datum": {"year":2025,"month":9,"date":2,"hours":4,"minutes":43,"utc":true}, "type": "temporal"}, "y": {"datum": -0.00406, "type": "quantitative"}}},
    {"data": {"values": [{}]}, "mark": {"type": "text", "text": "Instant Forex Trading", "font": "Liberation Sans", "fontSize": 10.5, "color": "#e0e0e0", "align": "left", "baseline": "middle"},
     "encoding": {"x": {"datum": {"year":2025,"month":9,"date":2,"hours":4,"minutes":43,"utc":true}, "type": "temporal"}, "y": {"datum": -0.0047, "type": "quantitative"}}},
    {"data": {"values": [{}]}, "mark": {"type": "rect", "color": "#ff0000"},
     "encoding": {"x": {"datum": {"year":2025,"month":9,"date":2,"hours":13,"minutes":32,"seconds":15,"utc":true}, "type": "temporal"}, "x2": {"datum": {"year":2025,"month":9,"date":2,"hours":16,"minutes":49,"seconds":45,"utc":true}},
                  "y": {"datum": -0.00399, "type": "quantitative"}, "y2": {"datum": -0.00498}}},
    {"data": {"values": [{}]}, "mark": {"type": "text", "text": "2025.09.02 15:10", "color": "#ffffff", "align": "center", "baseline": "middle"},
     "encoding": {"x": {"datum": {"year":2025,"month":9,"date":2,"hours":15,"minutes":10,"utc":true}, "type": "temporal"}, "y": {"datum": -0.00448, "type": "quantitative"}}}
  ]
}
]
}
